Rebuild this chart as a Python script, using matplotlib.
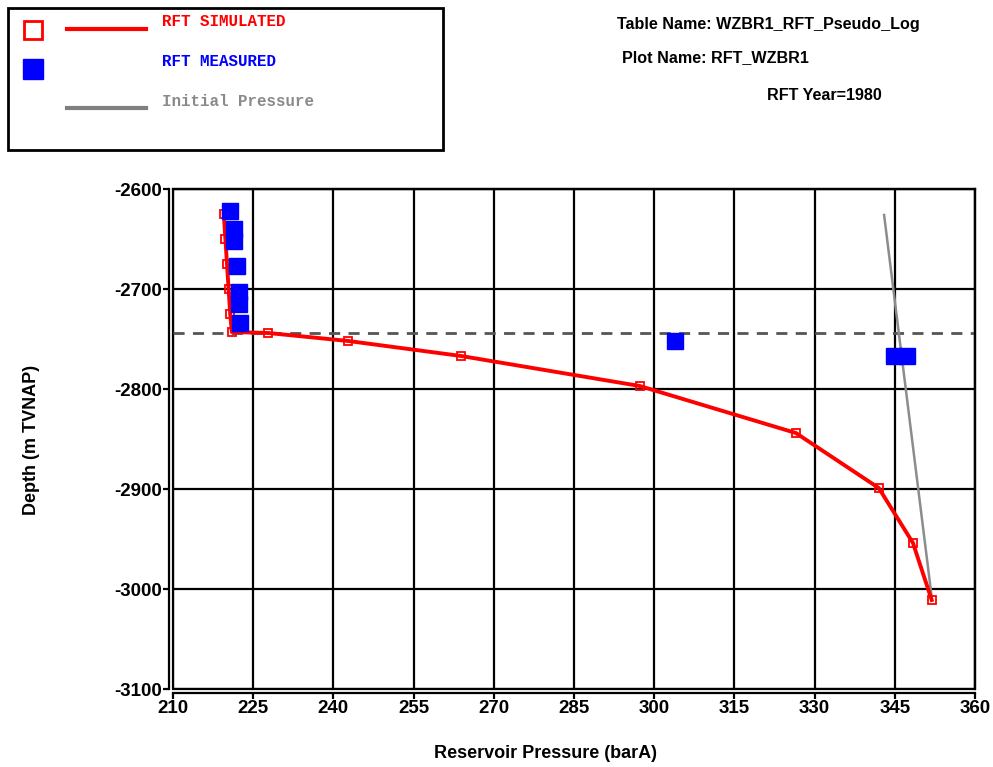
import matplotlib.pyplot as plt
from matplotlib.patches import Rectangle
from matplotlib.lines import Line2D

# RFT simulated profile (pressure barA, depth m TVNAP)
sim_pressure = [219.5, 219.8, 220.1, 220.4, 220.7, 221.0,
                227.8, 242.8, 263.9, 297.3, 326.5, 342.0, 348.4, 351.9]
sim_depth = [-2625, -2650, -2675, -2700, -2725, -2743,
             -2744, -2752, -2767, -2797, -2844, -2899, -2954, -3011]

# RFT measured points
meas_pressure = [220.7, 221.4, 221.4, 222.0, 222.4, 222.4, 222.6, 303.8, 344.8, 347.3]
meas_depth = [-2622, -2640, -2652, -2677, -2703, -2715, -2734, -2752, -2767, -2767]

# initial pressure gradient
init_pressure = [343.0, 351.9]
init_depth = [-2626, -3008]

contact_depth = -2744

plt.rcParams['font.family'] = ['Liberation Sans', 'DejaVu Sans']
plt.rcParams['axes.unicode_minus'] = False

fig = plt.figure(figsize=(9.93, 7.67), dpi=100)
ax = fig.add_axes([173 / 993, 1 - 689 / 767, 802 / 993, 500 / 767])

ax.set_xlim(210, 360)
ax.set_ylim(-3100, -2600)
ax.set_xticks(range(210, 361, 15))
ax.set_yticks(range(-3100, -2599, 100))
ax.grid(True, color='black', linewidth=1.6)
ax.set_axisbelow(True)

for side in ['left', 'bottom']:
    ax.spines[side].set_position(('outward', 3))
    ax.spines[side].set_linewidth(1.6)
for side in ['top', 'right']:
    ax.spines[side].set_linewidth(1.6)
# inner frame on the left/bottom edge
ax.add_patch(Rectangle((0, 0), 1, 1, transform=ax.transAxes, fill=False,
                       edgecolor='black', linewidth=1.6, clip_on=False, zorder=1))

ax.tick_params(direction='out', length=4, width=1.6, labelsize=13.5, pad=1)
for lab in ax.get_xticklabels() + ax.get_yticklabels():
    lab.set_fontweight('bold')

ax.axhline(contact_depth, color='#555555', linewidth=2, linestyle=(0, (4, 3)), zorder=2)
ax.plot(init_pressure, init_depth, color='#8c8c8c', linewidth=1.8, zorder=3)
ax.plot(sim_pressure, sim_depth, color='red', linewidth=2.8, marker='s',
        markersize=6, markerfacecolor='none', markeredgecolor='red',
        markeredgewidth=1.3, zorder=4)
ax.plot(meas_pressure, meas_depth, linestyle='none', marker='s', markersize=11.5,
        color='blue', zorder=5)

ax.set_xlabel('Reservoir Pressure (barA)', fontsize=13, fontweight='bold', va='center')
ax.set_ylabel('Depth (m TVNAP)', fontsize=13, fontweight='bold', va='center')
ax.xaxis.set_label_coords((545 - 173) / 802, (689 - 753) / 500)
ax.yaxis.set_label_coords((32 - 173) / 802, (689 - 440) / 500)

# header text
fig.text(617 / 993, 1 - 25 / 767, 'Table Name: WZBR1_RFT_Pseudo_Log',
         fontsize=11.6, fontweight='bold', va='center')
fig.text(622 / 993, 1 - 58 / 767, 'Plot Name: RFT_WZBR1',
         fontsize=11.6, fontweight='bold', va='center')
fig.text(767 / 993, 1 - 95 / 767, 'RFT Year=1980',
         fontsize=11.6, fontweight='bold', va='center')

# legend box
fig.add_artist(Rectangle((8 / 993, 1 - 150 / 767), 435 / 993, 142 / 767,
                         transform=fig.transFigure, fill=False,
                         edgecolor='black', linewidth=2))
mono = ['Liberation Mono', 'DejaVu Sans Mono']
legend_rows = [
    ('RFT SIMULATED', 'red', 21),
    ('RFT MEASURED', 'blue', 61),
    ('Initial Pressure', '#8a8a8a', 102),
]
for label, col, py in legend_rows:
    fig.text(162 / 993, 1 - py / 767, label, color=col, family=mono,
             fontsize=11.4, fontweight='bold', va='center')

fig.add_artist(Line2D([33 / 993], [1 - 30 / 767], marker='s', markersize=13,
                      markerfacecolor='none', markeredgecolor='red',
                      markeredgewidth=2, transform=fig.transFigure))
fig.add_artist(Line2D([67 / 993, 146 / 993], [1 - 29 / 767] * 2, color='red',
                      linewidth=3, transform=fig.transFigure))
fig.add_artist(Line2D([33 / 993], [1 - 69 / 767], marker='s', markersize=14,
                      color='blue', transform=fig.transFigure))
fig.add_artist(Line2D([67 / 993, 146 / 993], [1 - 108 / 767] * 2, color='gray',
                      linewidth=3, transform=fig.transFigure))

fig.savefig('out.png', dpi=100)
